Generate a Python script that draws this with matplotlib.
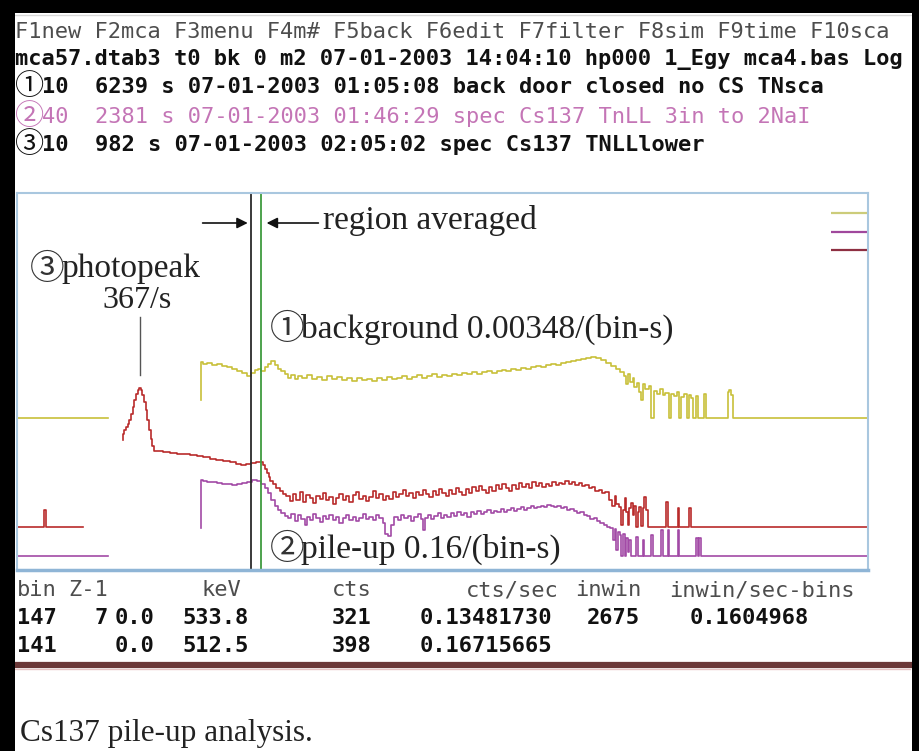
import numpy as np
import matplotlib
matplotlib.use('Agg')
import matplotlib.pyplot as plt
from matplotlib.patches import Rectangle
from matplotlib.lines import Line2D

nan = np.nan

# --- spectra (bin number, trace height on the display) ---
# 1: background, yellow
bg_bins = [0, 110, nan,
           111, 111, 113, 116, 119, 122, 125, 128, 131, 134, 137, 140, 142, 144, 146, 148, 150,
           152, 154, 156, 158, 160, 162, 164, 166, 168, 170, 173, 176, 179, 182, 185, 188, 191,
           194, 197, 200, 203, 206, 209, 212, 215, 218, 221, 224, 227, 230, 233, 236, 239, 242,
           245, 248, 251, 254, 257, 260, 263, 266, 269, 272, 275, 278, 281, 284, 287, 290, 293,
           296, 299, 302, 305, 308, 311, 314, 317, 320, 323, 326, 329, 332, 335, 338, 341, 344,
           347, 350, 353, 356, 359, 362, 364, 366, 367, 368, 370, 371, 372, 374, 375, 376, 377,
           379, 381, 382, 383, 384, 386, 388, 389, 391, 393, 394, 396, 398, 399, 400, 402, 404,
           405, 406, 408, 409, 410, 413, 414, 415, 427, 428, 429, 430, 431, 512]
bg_vals = [152, 152, nan,
           170, 208, 206, 207, 205, 206, 204, 203, 201, 199, 197, 194, 197, 200, 201, 199, 203,
           206, 209, 205, 201, 199, 196, 192, 195, 191, 194, 192, 195, 191, 193, 190, 194, 191,
           193, 190, 192, 189, 192, 190, 191, 189, 192, 190, 193, 191, 192, 194, 191, 193, 195,
           192, 194, 196, 193, 195, 194, 196, 195, 197, 196, 198, 196, 198, 199, 197, 199, 200,
           199, 201, 200, 202, 201, 203, 204, 203, 205, 206, 205, 207, 208, 209, 210, 211, 212,
           213, 212, 210, 207, 204, 201, 198, 194, 186, 196, 188, 192, 183, 187, 178, 170, 186,
           181, 184, 152, 152, 179, 176, 181, 175, 177, 152, 176, 174, 178, 152, 173, 176, 152,
           175, 172, 152, 174, 152, 152, 176, 152, 152, 178, 180, 175, 152, 152]

# 2: pile-up, purple
pu_bins = [0, 110, nan,
           111, 111, 113, 116, 119, 122, 125, 128, 131, 134, 137, 140, 143, 146, 148, 150, 152,
           154, 156, 158, 160, 162, 164, 166, 168, 170, 172, 174, 175, 177, 179, 181, 183, 185,
           187, 189, 191, 193, 195, 197, 199, 201, 203, 205, 207, 209, 211, 213, 215, 217, 219,
           221, 222, 224, 226, 228, 230, 232, 234, 236, 238, 240, 242, 244, 245, 246, 248, 250,
           252, 254, 256, 258, 260, 262, 264, 266, 268, 270, 272, 274, 276, 278, 280, 282, 284,
           286, 288, 290, 292, 294, 296, 298, 300, 302, 304, 306, 308, 310, 312, 314, 316, 318,
           320, 322, 324, 326, 328, 330, 332, 334, 336, 338, 340, 342, 344, 346, 348, 350, 352,
           354, 356, 358, 359, 360, 361, 362, 363, 364, 365, 366, 367, 368, 369, 370, 372, 373,
           374, 376, 377, 378, 381, 382, 383, 387, 388, 389, 391, 392, 393, 397, 398, 399, 408,
           409, 410, 411, 412, 512]
pu_vals = [14, 14, nan,
           42, 90, 89, 88, 88, 87, 86, 86, 85, 86, 87, 88, 90, 89, 86, 82, 77,
           70, 64, 60, 57, 54, 52, 56, 49, 55, 51, 45, 53, 50, 56, 52, 48, 54,
           51, 55, 50, 53, 47, 52, 55, 50, 53, 49, 52, 56, 51, 53, 50, 55, 52,
           47, 36, 34, 45, 53, 50, 55, 52, 54, 49, 53, 56, 51, 40, 52, 55, 51,
           54, 57, 52, 55, 53, 57, 54, 58, 55, 57, 53, 58, 56, 59, 56, 58, 60,
           57, 59, 58, 61, 58, 60, 62, 59, 61, 63, 60, 62, 64, 62, 63, 64, 63,
           65, 64, 63, 64, 62, 63, 60, 61, 59, 57, 58, 55, 54, 51, 52, 49, 47,
           45, 43, 42, 30, 41, 20, 38, 35, 14, 36, 14, 32, 18, 30, 14, 14, 33,
           14, 14, 30, 14, 14, 35, 14, 14, 40, 14, 14, 40, 14, 14, 40, 14, 14,
           32, 14, 32, 14, 14]

# 3: photopeak spectrum, red
pk_bins = [0, 16, 17, 18, 62, nan,
           63, 64, 65, 66, 67, 68, 69, 70, 71, 72, 73, 74, 75, 76, 77, 78, 79, 80, 81, 82, 83,
           86, 90, 94, 98, 102, 106, 110, 114, 118, 122, 126, 130, 133, 136, 139, 142, 145, 147,
           149, 150, 151, 152, 153, 155, 157, 159, 161, 163, 165, 167, 169, 171, 173, 175, 177,
           179, 181, 183, 185, 187, 189, 191, 193, 195, 197, 199, 201, 203, 205, 207, 209, 211,
           213, 215, 217, 219, 221, 223, 225, 227, 229, 231, 233, 235, 237, 239, 241, 243, 245,
           247, 249, 251, 253, 255, 257, 259, 261, 263, 265, 267, 269, 271, 273, 275, 277, 279,
           281, 283, 285, 287, 289, 291, 293, 295, 297, 299, 301, 303, 305, 307, 309, 311, 313,
           315, 317, 319, 321, 323, 325, 327, 329, 331, 333, 335, 337, 339, 341, 343, 345, 347,
           349, 351, 353, 355, 357, 359, 360, 361, 363, 364, 365, 366, 367, 368, 369, 370, 371,
           372, 373, 374, 375, 376, 377, 378, 379, 380, 390, 391, 392, 397, 398, 399, 404, 405,
           406, 512]
pk_vals = [43, 43, 60, 43, 43, nan,
           130, 136, 140, 143, 146, 150, 156, 163, 170, 176, 180, 182, 180, 175, 168, 160, 150,
           140, 131, 124, 119, 119, 118, 117, 116, 116, 115, 114, 113, 111, 110, 109, 108, 106,
           105, 106, 107, 108, 108, 105, 101, 97, 93, 89, 86, 82, 79, 76, 74, 69, 76, 70, 78,
           68, 75, 72, 67, 74, 71, 77, 70, 73, 66, 72, 76, 70, 74, 68, 75, 78, 71, 74, 69, 73,
           79, 72, 76, 70, 74, 71, 78, 73, 76, 80, 74, 77, 72, 78, 75, 80, 76, 73, 79, 75, 81,
           77, 74, 80, 76, 82, 78, 75, 81, 77, 83, 79, 84, 80, 77, 83, 79, 85, 81, 86, 82, 79,
           85, 81, 87, 83, 86, 82, 88, 84, 87, 83, 86, 84, 88, 85, 87, 86, 89, 86, 88, 85, 87,
           84, 85, 82, 83, 79, 80, 77, 78, 70, 64, 74, 66, 63, 45, 60, 72, 58, 45, 62, 67, 55,
           64, 43, 58, 63, 44, 62, 73, 60, 43, 43, 68, 43, 43, 62, 43, 43, 62, 43, 43]

# cursor bins (table rows)
cursor_bins = [141, 147]
cursor_colors = ['#2b2b2b', '#3f9b3f']

# small trace-colour markers at top right (height on display)
marker_levels = [357, 338, 320]
marker_span = [490, 512]

trace_colors = {'bg': '#c8c03a', 'pu': '#a24aa6', 'pk': '#b92b2b'}
marker_colors = ['#cccc7a', '#a0489c', '#8e2f42']

# text rows: (circled number, rest, colour, weight)
header_rows = [
    ("", "F1new F2mca F3menu F4m# F5back F6edit F7filter F8sim F9time F10sca", '#4d4d4d', 'normal'),
    ("", "mca57.dtab3 t0 bk 0 m2 07-01-2003 14:04:10 hp000 1_Egy mca4.bas Log", '#111111', 'bold'),
    ("\u2460", "10  6239 s 07-01-2003 01:05:08 back door closed no CS TNsca", '#111111', 'bold'),
    ("\u2461", "40  2381 s 07-01-2003 01:46:29 spec Cs137 TnLL 3in to 2NaI", '#c475b6', 'normal'),
    ("\u2462", "10  982 s 07-01-2003 02:05:02 spec Cs137 TNLLlower", '#111111', 'bold'),
]
header_y = [32, 60, 87, 117, 145]

table_header = [("bin", 17), ("Z-1", 68), ("keV", 202), ("cts", 332),
                ("cts/sec", 466), ("inwin", 575), ("inwin/sec-bins", 669)]
table_row1 = [("147", 17), ("7", 95), ("0.0", 115), ("533.8", 182), ("321", 332),
              ("0.13481730", 420), ("2675", 587), ("0.1604968", 690)]
table_row2 = [("141", 17), ("0.0", 115), ("512.5", 182), ("398", 332),
              ("0.16715665", 420)]

W, H = 920, 751
mono = ['DejaVu Sans Mono', 'Noto Sans CJK JP']
serif = ['Liberation Serif', 'Noto Sans CJK JP', 'DejaVu Sans']
circ = ['Noto Sans CJK JP', 'DejaVu Sans']

fig = plt.figure(figsize=(W / 100, H / 100), dpi=100, facecolor='white')
# black frame of the screenshot
for x0, y0, w, h in [(0, 0, 15, H), (0, 0, W, 13), (912, 0, 8, H)]:
    fig.add_artist(Rectangle((x0 / W, 1 - (y0 + h) / H), w / W, h / H,
                             transform=fig.transFigure, facecolor='black',
                             edgecolor='none', zorder=5))
fig.add_artist(Line2D([15 / W, 912 / W], [1 - 15 / H, 1 - 15 / H],
                      transform=fig.transFigure, color='#d8d8d8', lw=1))


def fx(px):
    return px / W


def fy(py):
    return 1 - py / H


for (c, txt, col, wt), y in zip(header_rows, header_y):
    if c:
        fig.text(fx(15), fy(y), c, family=circ, size=21, color=col,
                 va='center', ha='left')
        fig.text(fx(42), fy(y), txt, family=mono, size=15.8, color=col,
                 weight=wt, va='center', ha='left')
    else:
        fig.text(fx(15), fy(y), txt, family=mono, size=15.8, color=col,
                 weight=wt, va='center', ha='left')

for row, y, col, wt in [(table_header, 590, '#4d4d4d', 'normal'),
                        (table_row1, 618, '#111111', 'bold'),
                        (table_row2, 646, '#111111', 'bold')]:
    for txt, x in row:
        fig.text(fx(x), fy(y), txt, family=mono, size=15.8, color=col,
                 weight=wt, va='center', ha='left')

# thick separator
fig.add_artist(Line2D([15 / W, 910 / W], [fy(665), fy(665)],
                      transform=fig.transFigure, color='#6b3838', lw=4.5))
fig.add_artist(Line2D([15 / W, 910 / W], [fy(669), fy(669)],
                      transform=fig.transFigure, color='#e6c4c4', lw=1))

fig.text(fx(20), fy(733), "Cs137 pile-up analysis.", family=serif, size=22.5,
         color='#222222', va='center', ha='left')

# --- spectrum display ---
ax = fig.add_axes([fx(17), fy(570), (868 - 17) / W, (570 - 193) / H])
ax.set_xlim(0, 512)
ax.set_ylim(0, 377)
ax.set_xticks([])
ax.set_yticks([])
for s in ax.spines.values():
    s.set_color('#a9c7df')
    s.set_linewidth(1.5)
ax.spines['bottom'].set_color('#8fb5d6')
ax.spines['bottom'].set_linewidth(2.5)

ax.plot(bg_bins, bg_vals, color=trace_colors['bg'], lw=1.2, drawstyle='steps-mid')
ax.plot(pk_bins, pk_vals, color=trace_colors['pk'], lw=1.2, drawstyle='steps-mid')
ax.plot(pu_bins, pu_vals, color=trace_colors['pu'], lw=1.2, drawstyle='steps-mid')

for b, c in zip(cursor_bins, cursor_colors):
    ax.axvline(b, color=c, lw=1.3)

for lvl, c in zip(marker_levels, marker_colors):
    ax.hlines(lvl, marker_span[0], marker_span[1], color=c, lw=1.6)

# annotations
ax.annotate('', xy=(cursor_bins[0] - 0.5, 347), xytext=(110, 347),
            arrowprops=dict(arrowstyle='-|>', color='#111111', lw=1.2, mutation_scale=16))
ax.annotate('', xy=(cursor_bins[1] + 1.5, 347), xytext=(183, 347),
            arrowprops=dict(arrowstyle='-|>', color='#111111', lw=1.2, mutation_scale=16))
ax.text(184, 349, "region averaged", family=serif, size=24, color='#222222',
        va='center', ha='left')

ax.text(8, 300, "\u2462", family=circ, size=25, color='#333333',
        va='center', ha='left')
ax.text(27, 301, "photopeak", family=serif, size=24, color='#222222',
        va='center', ha='left')
ax.text(72, 270, "367/s", family=serif, size=23, color='#222222',
        va='center', ha='center')
ax.plot([74, 74], [195, 253], color='#555555', lw=1)

ax.text(152, 240, "\u2460", family=circ, size=25, color='#333333',
        va='center', ha='left')
ax.text(171, 241, "background 0.00348/(bin-s)", family=serif, size=24,
        color='#222222', va='center', ha='left')
ax.text(152, 20, "\u2461", family=circ, size=25, color='#333333',
        va='center', ha='left', clip_on=False)
ax.text(171, 21, "pile-up 0.16/(bin-s)", family=serif, size=24,
        color='#222222', va='center', ha='left', clip_on=False)

fig.savefig('out.png', dpi=100, facecolor='white')
